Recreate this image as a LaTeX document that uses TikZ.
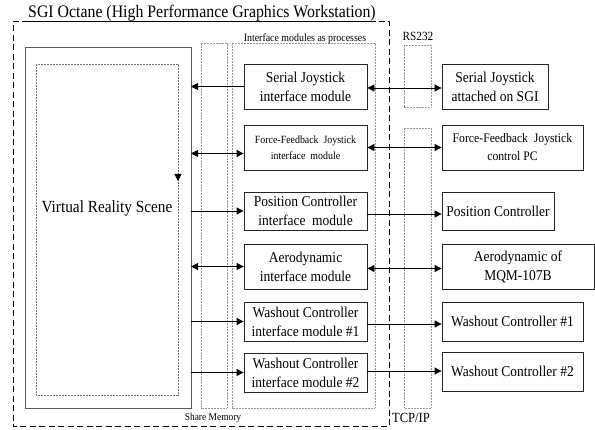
\documentclass[tikz,border=0pt]{standalone}
\usepackage{fontspec}
\setmainfont{Liberation Serif}[FakeStretch=0.9]
\usetikzlibrary{arrows.meta}

\tikzset{
  box/.style={draw=black!85, line width=0.8pt, inner sep=0pt, align=center,
    minimum width=#1, font=\fontsize{15}{19}\selectfont},
  box/.default=123pt,
  zone/.style={draw=black!40, dash pattern=on 0.7pt off 0.8pt, line width=0.6pt},
  outline/.style={draw=black, line width=1pt, dash pattern=on 6pt off 3.5pt},
  link/.style={draw=black, line width=0.8pt},
  tip/.style={-{Triangle[length=7pt,width=7pt]}},
  bitip/.style={{Triangle[length=7pt,width=7pt]}-{Triangle[length=7pt,width=7pt]}},
  revtip/.style={{Triangle[length=7pt,width=7pt]}-},
  small/.style={font=\fontsize{11}{13}\selectfont, inner sep=0pt},
}

\begin{document}
\begin{tikzpicture}[x=1pt, y=-1pt]
\useasboundingbox (0,0) rectangle (595,430);

% workstation boundary with its underlined title
\node[anchor=south west, inner sep=0pt, font=\fontsize{17.6}{20}\selectfont]
  (title) at (28,21.5) {SGI Octane (High Performance Graphics Workstation)};
\draw[black, line width=0.8pt] (title.south west) -- (title.south east);
\draw[outline] (title.south west) -- (13,21.5) -- (13,427) -- (389,427)
  -- (389,21.5) -- (title.south east);

% virtual reality scene
\draw[draw=black!65, line width=0.9pt] (25,47) rectangle (191,408);
\coordinate (vrE) at (191,227);
\draw[zone, draw=black!55] (36,64) rectangle (178,395);
\node[inner sep=0pt, font=\fontsize{17}{20}\selectfont] (vr) at (107,208)
  {Virtual Reality Scene};
\coordinate (dropA) at (178,174);
\coordinate (dropB) at (178,181);
\draw[link, tip] (dropA) -- (dropB);

% shared memory and process areas
\draw[zone] (201,43) rectangle (227,408);
\draw[zone] (232,43) rectangle (375,408);
\node[small, anchor=base] (iflabel) at (305,42) {Interface modules as processes};
\node[small, font=\fontsize{10.5}{12}\selectfont] (shm) at (213,418) {Share Memory};

% external links
\draw[zone] (404,45) rectangle (431,107);
\draw[zone] (404,128) rectangle (431,408);
\node[inner sep=0pt, font=\fontsize{12.5}{14}\selectfont] (rs) at (418,36) {RS232};
\node[inner sep=0pt, font=\fontsize{14}{16}\selectfont] (tcp) at (411,418) {TCP/IP};

% interface modules
\node[box, minimum height=45pt] (ser) at (305.5,86.5)
  {Serial Joystick\\interface module};
\node[box, minimum height=45pt, font=\fontsize{11}{16}\selectfont] (ff) at (305.5,147.5)
  {Force-Feedback\ \ Joystick\\interface\ \ module};
\node[box, minimum height=38pt] (pos) at (305.5,211)
  {Position Controller\\interface\ \ module};
\node[box, minimum height=45pt] (aero) at (305.5,266.5)
  {Aerodynamic\\interface module};
\node[box, minimum height=39pt] (wa) at (305.5,321.5)
  {Washout Controller\\interface module \#1};
\node[box, minimum height=39pt] (wb) at (305.5,372.5)
  {Washout Controller\\interface module \#2};

% external devices
\node[box=106pt, minimum height=45pt] (serR) at (495,86.5)
  {Serial Joystick\\attached on SGI};
\node[box=141pt, minimum height=45pt, font=\fontsize{13}{18}\selectfont] (ffR) at (512.5,147.5)
  {Force-Feedback\ \ Joystick\\control PC};
\node[box=112pt, minimum height=38pt] (posR) at (498,211) {Position Controller};
\node[box=152pt, minimum height=45pt] (aeroR) at (518,266.5)
  {Aerodynamic of\\MQM-107B};
\node[box=141pt, minimum height=39pt] (waR) at (512.5,321.5) {Washout Controller \#1};
\node[box=141pt, minimum height=39pt] (wbR) at (512.5,371.5) {Washout Controller \#2};

% scene <-> modules
\draw[link, revtip] (vrE |- ser.west) -- (ser.west);
\draw[link, bitip] ([yshift=-6pt]vrE |- ff.west) -- ([yshift=-6pt]ff.west);
\draw[link, tip] (vrE |- pos.west) -- (pos.west);
\draw[link, bitip] (vrE |- aero.west) -- (aero.west);
\draw[link, tip] (vrE |- wa.west) -- (wa.west);
\draw[link, tip] (vrE |- wb.west) -- (wb.west);

% modules <-> devices
\draw[link, bitip] ([yshift=-1.5pt]ser.east) -- ([yshift=-1.5pt]ser.east -| serR.west);
\draw[link, bitip] (ff.east) -- (ff.east -| ffR.west);
\draw[link, tip] ([yshift=-3pt]pos.east) -- ([yshift=-3pt]pos.east -| posR.west);
\draw[link, bitip] ([yshift=-2pt]aero.east) -- ([yshift=-2pt]aero.east -| aeroR.west);
\draw[link, tip] ([yshift=-2.5pt]wa.east) -- ([yshift=-2.5pt]wa.east -| waR.west);
\draw[link, tip] ([yshift=1.5pt]wb.east) -- ([yshift=1.5pt]wb.east -| wbR.west);
\end{tikzpicture}
\end{document}
